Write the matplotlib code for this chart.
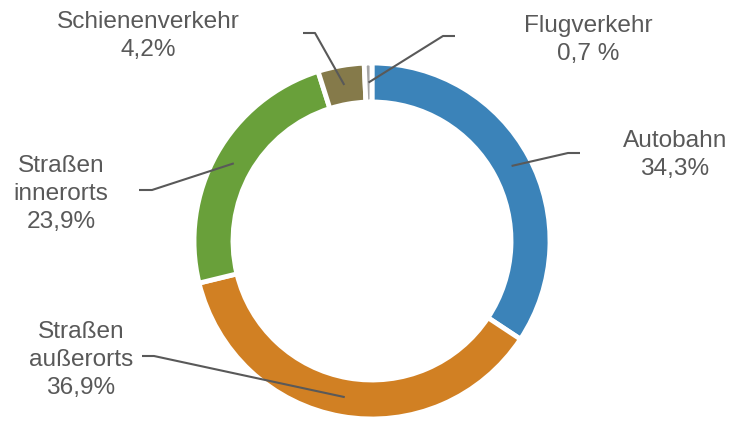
import numpy as np
import matplotlib
matplotlib.use('Agg')
import matplotlib.pyplot as plt

# Anteile in Prozent, im Uhrzeigersinn ab 12 Uhr
names  = ['Autobahn', 'Straßen\naußerorts', 'Straßen\ninnerorts', 'Schienenverkehr', 'Flugverkehr']
values = [34.3, 36.9, 23.9, 4.2, 0.7]
pcts   = ['34,3%', '36,9%', '23,9%', '4,2%', '0,7 %']
colors = ['#3b83b9', '#d18023', '#69a03a', '#857a4a', '#a5a5a5']

plt.rc('font', family=['Liberation Sans', 'DejaVu Sans'], size=17.6)

W, H = 729, 421
fig = plt.figure(figsize=(W / 100, H / 100), dpi=100)
ax = fig.add_axes([0, 0, 1, 1])

cx, cy, r, ring = 372, H - 241, 178, 39
wedges, _ = ax.pie(values, colors=colors, startangle=90, counterclock=False,
                   center=(cx, cy), radius=r,
                   wedgeprops=dict(width=ring, edgecolor='white', linewidth=3.5))
ax.set_xlim(0, W)
ax.set_ylim(0, H)
ax.set_aspect('equal')
ax.axis('off')

# label layout: text centre x, first baseline y, leader start, leader elbow (pixels from top)
text_pos = [(675, 147), (81, 338), (61, 172), (148, 28), (588, 32)]
lead_from = [(580, 153), (142, 356), (139, 190), (303, 33), (455, 36)]
lead_elbow = [(568, 153), (154, 356), (152, 190), (315, 33), (443, 36)]

grey = '#595959'
for w, name, pct, (tx, ty), p0, p1 in zip(wedges, names, pcts, text_pos, lead_from, lead_elbow):
    lines = name.split('\n') + [pct]
    for i, s in enumerate(lines):
        ax.text(tx, H - (ty + 28 * i), s, ha='center', va='baseline', color=grey)
    mid = np.deg2rad((w.theta1 + w.theta2) / 2)
    rr = r - ring / 2
    ex, ey = cx + rr * np.cos(mid), cy + rr * np.sin(mid)
    ax.plot([p0[0], p1[0], ex], [H - p0[1], H - p1[1], ey], color=grey, lw=1.5,
            solid_capstyle='butt')

fig.savefig('out.png', dpi=100)
